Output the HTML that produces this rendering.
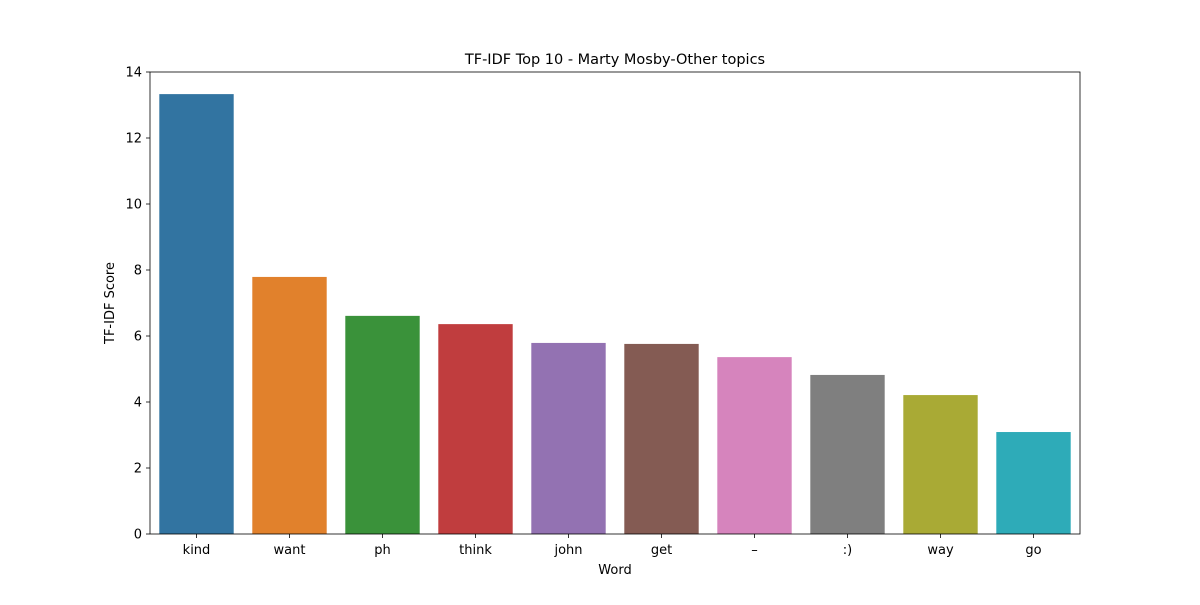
<!DOCTYPE html>
<html><head><meta charset="utf-8"><style>
body{margin:0;background:#fff;}
svg text{font-family:"DejaVu Sans","Liberation Sans",sans-serif;fill:#000;}
</style></head><body>
<svg id="chart" width="1200" height="600" xmlns="http://www.w3.org/2000/svg">
<rect width="1200" height="600" fill="#fff"/>
<text x="615" y="64" font-size="14.5" text-anchor="middle">TF-IDF Top 10 - Marty Mosby-Other topics</text>
<g id="bars"></g>
<g id="axes"></g>
<text x="615" y="574" font-size="13" text-anchor="middle">Word</text>
<text x="114" y="303" font-size="13" text-anchor="middle" transform="rotate(-90 114 303)">TF-IDF Score</text>
</svg>
<script>
const categories=["kind","want","ph","think","john","get","–",":)","way","go"];
const scores=[13.33,7.79,6.61,6.36,5.79,5.76,5.36,4.82,4.21,3.09];
const yTicks=[0,2,4,6,8,10,12,14];
const colors=["#3274a1","#e1812c","#3a923a","#c03d3e","#9372b2","#845b53","#d684bd","#7f7f7f","#a9aa35","#2eabb8"];
const L=150,R=1080,T=72,B=534,yMax=14;
const NS="http://www.w3.org/2000/svg";
const y=v=>B-(v/yMax)*(B-T);
const step=(R-L)/categories.length;
const xc=i=>L+step*(i+0.5);
const bars=document.getElementById('bars'),axes=document.getElementById('axes');
function mk(tag,attrs,parent){const e=document.createElementNS(NS,tag);for(const k in attrs)e.setAttribute(k,attrs[k]);parent.appendChild(e);return e;}
categories.forEach((c,i)=>{
  const w=step*0.8;
  const r=mk('rect',{x:xc(i)-w/2,y:y(scores[i]),width:w,height:B-y(scores[i]),fill:colors[i]},bars);
  
  
  mk('line',{x1:xc(i),x2:xc(i),y1:B,y2:B+4,stroke:'#000','stroke-width':0.8},axes);
  const t=mk('text',{x:xc(i),y:B+20,'font-size':13,'text-anchor':'middle'},axes);
  t.textContent=c;
  
  
});
yTicks.forEach(v=>{
  mk('line',{x1:L-4,x2:L,y1:y(v),y2:y(v),stroke:'#000','stroke-width':0.8},axes);
  const t=mk('text',{x:L-8,y:y(v)+4.5,'font-size':13,'text-anchor':'end'},axes);
  t.textContent=v;
  
  
});
const f=mk('rect',{x:L,y:T,width:R-L,height:B-T,fill:'none',stroke:'#000','stroke-width':0.8},axes);


</script>
</body></html>
